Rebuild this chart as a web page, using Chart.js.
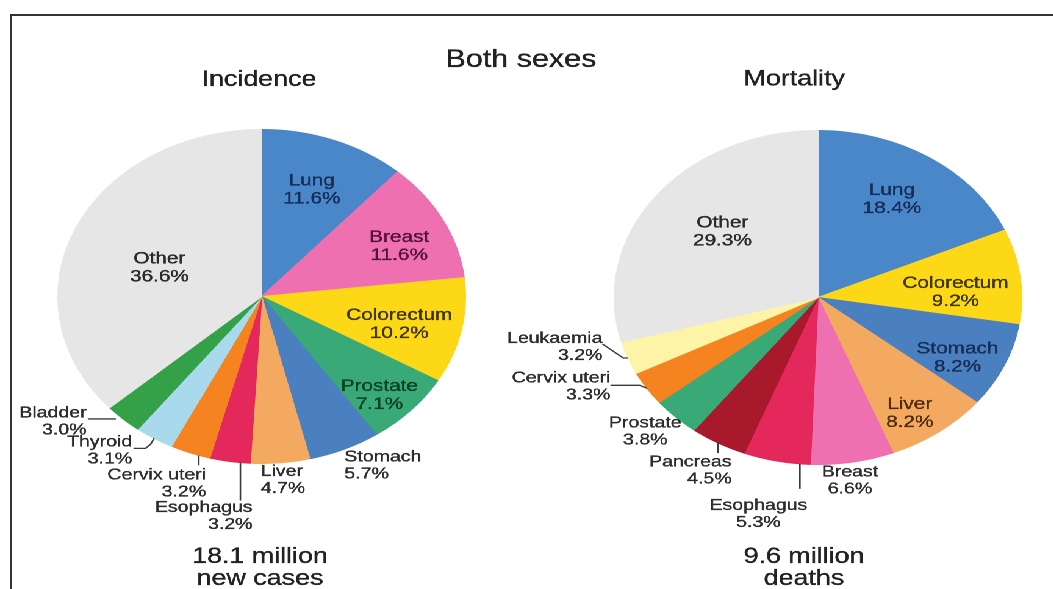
<!DOCTYPE html>
<html>
<head>
<meta charset="utf-8">
<title>Both sexes</title>
<script src="https://cdn.jsdelivr.net/npm/chart.js@4.4.1/dist/chart.umd.min.js"></script>
<style>
  html, body { margin:0; padding:0; background:#fff; overflow:hidden; }
  #page { position:relative; width:1053px; height:589px; overflow:hidden; background:#fff; }
  #frame { position:absolute; left:10px; top:14px; width:1100px; height:700px; border-top:2px solid #333; border-left:2px solid #333; }
  #stage { position:absolute; left:0; top:0; width:863px; height:589px; transform:scaleX(1.22); transform-origin:0 0; }
  #stage canvas { position:absolute; left:0; top:0; }
</style>
</head>
<body>
<div id="page">
  <div id="frame"></div>
  <div id="stage">
    <canvas id="incidence" width="863" height="589" style="width:863px;height:589px"></canvas>
    <canvas id="mortality" width="863" height="589" style="width:863px;height:589px"></canvas>
  </div>
</div>
<script>
// ---------- data ----------
const incidenceCategories = ['Lung','Breast','Colorectum','Prostate','Stomach','Liver','Esophagus','Cervix uteri','Thyroid','Bladder','Other'];
const incidenceValues     = [11.6, 11.6, 10.2, 7.1, 5.7, 4.7, 3.2, 3.2, 3.1, 3.0, 36.6];
const mortalityCategories = ['Lung','Colorectum','Stomach','Liver','Breast','Esophagus','Pancreas','Prostate','Cervix uteri','Leukaemia','Other'];
const mortalityValues     = [18.4, 9.2, 8.2, 8.2, 6.6, 5.3, 4.5, 3.8, 3.3, 3.2, 29.3];
const mainTitle   = 'Both sexes';
const panelTitles = ['Incidence', 'Mortality'];
const incidenceTotal = ['18.1 million', 'new cases'];
const mortalityTotal = ['9.6 million', 'deaths'];

// ---------- styles ----------
const FONT = '"Liberation Sans", Arial, Helvetica, sans-serif';
const sliceColors = {
  'Lung':'#4a87c9', 'Breast':'#ee70b1', 'Colorectum':'#fdd817', 'Prostate':'#39a977',
  'Stomach':'#4a80bf', 'Liver':'#f4a961', 'Esophagus':'#e4285b', 'Cervix uteri':'#f5831f',
  'Thyroid':'#a8d9ec', 'Bladder':'#34a048', 'Pancreas':'#a7192b', 'Leukaemia':'#fdf4a7',
  'Other':'#e6e6e6'
};
const inkColors = {
  'Lung':'#172d57', 'Breast':'#521339', 'Colorectum':'#3d3400', 'Prostate':'#0b4026',
  'Stomach':'#172d57', 'Liver':'#4e2c0c', 'Other':'#2a2a2a'
};
const OUT_INK = '#2c2c2c';

// ---------- label placement (relative to each slice's geometry) ----------
// f: fraction of radius along the slice angle; t: position inside slice (0..1); dx/dy offsets
const incidenceLayout = [
  {f:0.74, dx:-3, dy:0},
  {f:0.76, dx:0, dy:-1},
  {f:0.69, dx:0, dy:-5},
  {f:0.79, dx:0, dy:0},
  {f:1, dx:0, dy:8, align:'left'},
  {f:1, dx:-16, dy:9, align:'left'},
  {f:1, t:0.24, dx:10, dy:45, align:'right', leader:[[0,0],[0,38]]},
  {f:1, t:0.28, dx:6, dy:20, align:'right', leader:[[0,0],[0,10]]},
  {f:1, dx:-18, dy:4, align:'right', leader:[[0,0],[-3,6],[-7,10],[-17,10]]},
  {f:1, dx:-30, dy:-6, align:'right', leader:[[-6,0],[-29,0]]},
  {f:0.55, dx:0, dy:0}
];
const mortalityLayout = [
  {f:0.73, dx:-6, dy:-5},
  {f:0.68, dx:0, dy:0},
  {f:0.75, dx:0, dy:0},
  {f:0.78, dx:-2, dy:2},
  {f:1, dx:-2, dy:10, align:'center'},
  {f:1, t:0.154, dx:-34, dy:42, align:'center', leader:[[0,0],[0,25]]},
  {f:1, dx:11, dy:19, align:'right', leader:[[0,0],[0,10]]},
  {f:1, dx:-25, dy:6, align:'center'},
  {f:1, dx:-30, dy:-10, align:'right', leader:[[0,0],[-6,-3],[-30,-3]]},
  {f:1, dx:-21, dy:-19.5, align:'right', leader:[[0,0],[-4,0],[-21,-14]]},
  {f:0.65, dx:8, dy:-9}
];
const incidenceTexts = [
  {text: mainTitle, dx:212.5, dy:-236.5, size:25},
  {text: panelTitles[0], dx:-2.2, dy:-216.5, size:22},
  {text: incidenceTotal[0], dx:-1.4, dy:260.5, size:22},
  {text: incidenceTotal[1], dx:-1.4, dy:282.5, size:22}
];
const mortalityTexts = [
  {text: panelTitles[1], dx:-19.5, dy:-218, size:22},
  {text: mortalityTotal[0], dx:-11.5, dy:259.5, size:22},
  {text: mortalityTotal[1], dx:-11.5, dy:281.5, size:22}
];

function labelPlugin(layout, texts) {
  return {
    id: 'sliceLabels',
    afterDatasetsDraw(chart) {
      const ctx = chart.ctx;
      const meta = chart.getDatasetMeta(0);
      const cats = chart.data.labels;
      const vals = chart.data.datasets[0].data;
      ctx.save();
      meta.data.forEach((arc, i) => {
        const L = layout[i];
        const p = arc.getProps(['x','y','startAngle','endAngle','outerRadius'], true);
        const a = p.startAngle + (L.t === undefined ? 0.5 : L.t) * (p.endAngle - p.startAngle);
        const ex = p.x + Math.cos(a) * p.outerRadius * L.f;
        const ey = p.y + Math.sin(a) * p.outerRadius * L.f;
        if (L.leader) {
          ctx.beginPath();
          ctx.strokeStyle = '#3a3a3a';
          ctx.lineWidth = 1.3;
          L.leader.forEach(([dx, dy], k) => k ? ctx.lineTo(ex + dx, ey + dy) : ctx.moveTo(ex + dx, ey + dy));
          ctx.stroke();
        }
        const inside = L.f < 1;
        const size = inside ? 17 : 16;
        const gap = inside ? 18 : 17;
        ctx.font = size + 'px ' + FONT;
        const ink = inside ? (inkColors[cats[i]] || '#2a2a2a') : OUT_INK;
        ctx.fillStyle = ink;
        ctx.strokeStyle = ink;
        ctx.lineWidth = 0.35;
        ctx.textAlign = L.align || 'center';
        ctx.textBaseline = 'middle';
        const tx = ex + (L.dx || 0), ty = ey + (L.dy || 0);
        ctx.fillText(cats[i], tx, ty);
        ctx.strokeText(cats[i], tx, ty);
        const pct = vals[i].toFixed(1) + '%';
        ctx.fillText(pct, tx, ty + gap);
        ctx.strokeText(pct, tx, ty + gap);
      });
      ctx.restore();
    },
    afterDraw(chart) {
      const ctx = chart.ctx;
      const arc = chart.getDatasetMeta(0).data[0];
      ctx.save();
      ctx.fillStyle = '#222222';
      ctx.strokeStyle = '#222222';
      ctx.lineWidth = 0.35;
      ctx.textAlign = 'center';
      ctx.textBaseline = 'middle';
      texts.forEach(t => {
        ctx.font = t.size + 'px ' + FONT;
        ctx.fillText(t.text, arc.x + t.dx, arc.y + t.dy);
        ctx.strokeText(t.text, arc.x + t.dx, arc.y + t.dy);
      });
      ctx.restore();
    }
  };
}

function makePie(id, cats, vals, layout, texts, padding) {
  return new Chart(document.getElementById(id), {
    type: 'pie',
    data: {
      labels: cats,
      datasets: [{
        data: vals,
        backgroundColor: cats.map(c => sliceColors[c]),
        borderColor: cats.map(c => sliceColors[c]),
        borderWidth: 1,
        hoverBorderWidth: 1,
        hoverOffset: 0,
        offset: 0
      }]
    },
    options: {
      responsive: false,
      animation: false,
      devicePixelRatio: 2,
      events: [],
      layout: { padding: padding },
      plugins: { legend: { display: false }, tooltip: { enabled: false }, title: { display: false } }
    },
    plugins: [labelPlugin(layout, texts)]
  });
}

makePie('incidence', incidenceCategories, incidenceValues, incidenceLayout, incidenceTexts,
        {left:47, top:129, right:481, bottom:125});
makePie('mortality', mortalityCategories, mortalityValues, mortalityLayout, mortalityTexts,
        {left:503, top:130, right:25, bottom:124});
</script>
</body>
</html>
